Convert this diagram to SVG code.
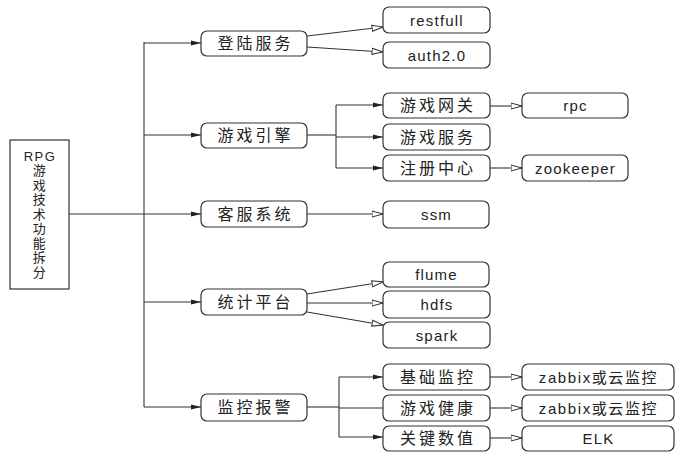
<svg xmlns="http://www.w3.org/2000/svg" width="692" height="457" viewBox="0 0 692 457">
<style>
.box{fill:#fff;stroke:#333;stroke-width:1.2}
.t{font-family:"Liberation Sans","Noto Sans CJK SC",sans-serif;font-size:16px;letter-spacing:3px;fill:#222;text-anchor:middle;dominant-baseline:central}
.e{font-family:"Liberation Sans","Noto Sans CJK SC",sans-serif;font-size:15px;letter-spacing:1.2px;fill:#222;text-anchor:middle;dominant-baseline:central}
.z{font-family:"Liberation Sans","Noto Sans CJK SC",sans-serif;font-size:15px;letter-spacing:1.6px;fill:#222;text-anchor:middle;dominant-baseline:central}
.r{font-family:"Liberation Sans","Noto Sans CJK SC",sans-serif;font-size:13px;letter-spacing:1.5px;fill:#222;text-anchor:middle;dominant-baseline:central}
.c line,.c path{stroke:#333;stroke-width:1.1;fill:none}
.f{marker-end:url(#fa)}
.o{marker-end:url(#oa)}
</style>
<defs>
<marker id="fa" viewBox="0 0 10 6" refX="10" refY="3" markerWidth="10" markerHeight="6" orient="auto" markerUnits="userSpaceOnUse"><path d="M0,0.5 L10,3 L0,5.5 z" fill="#222"/></marker>
<marker id="oa" viewBox="0 0 12 8" refX="11.5" refY="4" markerWidth="12" markerHeight="8" orient="auto" markerUnits="userSpaceOnUse"><path d="M0.5,1 L11.5,4 L0.5,7 z" fill="#fff" stroke="#333" stroke-width="1"/></marker>
</defs>
<rect width="692" height="457" fill="#fff"/>
<g class="c" id="connectors">
<line x1="69" y1="214" x2="201" y2="214" class="f"/>
<line x1="144" y1="42" x2="144" y2="407"/>
<line x1="144" y1="43" x2="201" y2="43" class="f"/>
<line x1="144" y1="135" x2="201" y2="135" class="f"/>
<line x1="144" y1="302" x2="201" y2="302" class="f"/>
<line x1="144" y1="407" x2="201" y2="407" class="f"/>
<line x1="307" y1="36" x2="383" y2="27" class="o"/>
<line x1="307" y1="47" x2="383" y2="52" class="o"/>
<line x1="307" y1="135" x2="336" y2="135"/>
<line x1="336" y1="105" x2="336" y2="168"/>
<line x1="336" y1="105" x2="383" y2="105" class="f"/>
<line x1="336" y1="137" x2="383" y2="137" class="f"/>
<line x1="336" y1="168" x2="383" y2="168" class="f"/>
<line x1="490" y1="106" x2="522" y2="106" class="o"/>
<line x1="490" y1="168" x2="522" y2="168" class="o"/>
<line x1="307" y1="214" x2="383" y2="214" class="o"/>
<line x1="307" y1="294" x2="383" y2="282" class="o"/>
<line x1="307" y1="303" x2="383" y2="303" class="o"/>
<line x1="307" y1="312" x2="383" y2="325" class="o"/>
<line x1="307" y1="407" x2="339" y2="407"/>
<line x1="339" y1="377" x2="339" y2="437"/>
<line x1="339" y1="377" x2="383" y2="377" class="f"/>
<line x1="339" y1="408" x2="383" y2="408"/>
<line x1="339" y1="437" x2="383" y2="437" class="f"/>
<line x1="490" y1="377" x2="522" y2="377" class="o"/>
<line x1="490" y1="408" x2="522" y2="408" class="o"/>
<line x1="490" y1="438" x2="522" y2="438" class="o"/>
</g>
<g id="root">
<rect class="box" x="10" y="140" width="59" height="149" rx="0"/>
<text class="r" x="40" y="156">RPG</text>
<text class="r" x="40" y="170.5">游</text>
<text class="r" x="40" y="185">戏</text>
<text class="r" x="40" y="199.5">技</text>
<text class="r" x="40" y="214">术</text>
<text class="r" x="40" y="228.5">功</text>
<text class="r" x="40" y="243">能</text>
<text class="r" x="40" y="257.5">拆</text>
<text class="r" x="40" y="272">分</text>
</g>
<g id="n-login"><rect class="box" x="201" y="31" width="106" height="25" rx="6"/><text class="t" x="255.5" y="43.5">登陆服务</text></g>
<g id="n-engine"><rect class="box" x="201" y="123" width="106" height="25" rx="6"/><text class="t" x="255.5" y="135.5">游戏引擎</text></g>
<g id="n-cs"><rect class="box" x="201" y="201" width="106" height="26" rx="6"/><text class="t" x="255.5" y="214">客服系统</text></g>
<g id="n-stat"><rect class="box" x="201" y="289" width="106" height="26" rx="6"/><text class="t" x="255.5" y="302">统计平台</text></g>
<g id="n-mon"><rect class="box" x="201" y="394" width="106" height="27" rx="6"/><text class="t" x="255.5" y="407.5">监控报警</text></g>
<g id="n-restfull"><rect class="box" x="383" y="7" width="107" height="26" rx="6"/><text class="e" x="437" y="20">restfull</text></g>
<g id="n-auth"><rect class="box" x="383" y="42" width="107" height="26" rx="6"/><text class="e" x="437" y="55">auth2.0</text></g>
<g id="n-gateway"><rect class="box" x="383" y="93" width="107" height="25" rx="6"/><text class="t" x="438" y="105.5">游戏网关</text></g>
<g id="n-gamesvc"><rect class="box" x="383" y="124" width="107" height="26" rx="6"/><text class="t" x="438" y="137">游戏服务</text></g>
<g id="n-registry"><rect class="box" x="383" y="155" width="107" height="26" rx="6"/><text class="t" x="438" y="168">注册中心</text></g>
<g id="n-ssm"><rect class="box" x="383" y="201" width="106" height="27" rx="6"/><text class="e" x="436.5" y="214.5">ssm</text></g>
<g id="n-flume"><rect class="box" x="383" y="262" width="106" height="25" rx="6"/><text class="e" x="436.5" y="274.5">flume</text></g>
<g id="n-hdfs"><rect class="box" x="383" y="291" width="107" height="27" rx="6"/><text class="e" x="437" y="304.5">hdfs</text></g>
<g id="n-spark"><rect class="box" x="383" y="322" width="107" height="26" rx="6"/><text class="e" x="437" y="335">spark</text></g>
<g id="n-basemon"><rect class="box" x="383" y="364" width="107" height="26" rx="6"/><text class="t" x="438" y="377">基础监控</text></g>
<g id="n-health"><rect class="box" x="383" y="395" width="107" height="26" rx="6"/><text class="t" x="438" y="408">游戏健康</text></g>
<g id="n-keyval"><rect class="box" x="383" y="426" width="107" height="25" rx="6"/><text class="t" x="438" y="438.5">关键数值</text></g>
<g id="n-rpc"><rect class="box" x="522" y="93" width="106" height="25" rx="6"/><text class="e" x="575.5" y="105.5">rpc</text></g>
<g id="n-zk"><rect class="box" x="522" y="155" width="106" height="26" rx="6"/><text class="e" x="575.5" y="168">zookeeper</text></g>
<g id="n-zabbix1"><rect class="box" x="522" y="364" width="152" height="26" rx="6"/><text class="z" x="598.5" y="377">zabbix或云监控</text></g>
<g id="n-zabbix2"><rect class="box" x="522" y="395" width="152" height="26" rx="6"/><text class="z" x="598.5" y="408">zabbix或云监控</text></g>
<g id="n-elk"><rect class="box" x="522" y="426" width="152" height="25" rx="6"/><text class="e" x="598.5" y="438.5">ELK</text></g>
</svg>
